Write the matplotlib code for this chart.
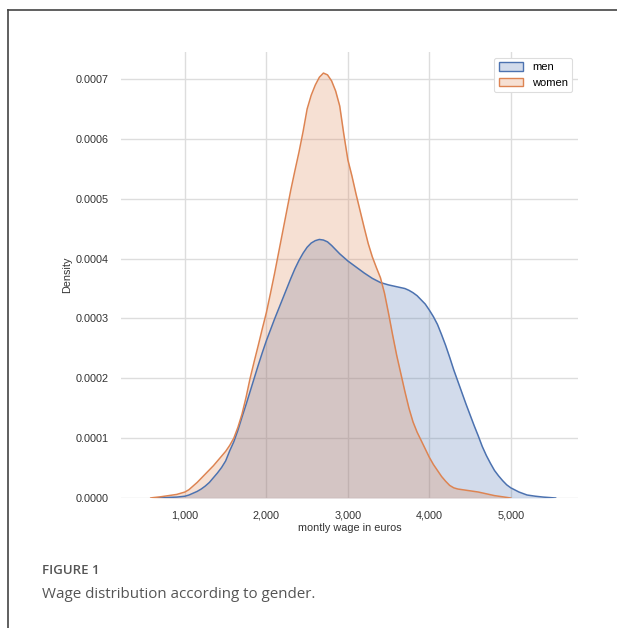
# wage density by gender
import numpy as np
import matplotlib.pyplot as plt
from matplotlib.lines import Line2D

# wage grid (euros) and density values
men_wage = [620, 700, 800, 900, 1000, 1050, 1100, 1150, 1200, 1250, 1300, 1350, 1400,
            1450, 1500, 1550, 1600, 1650, 1700, 1750, 1800, 1850, 1900, 1950, 2000,
            2050, 2100, 2150, 2200, 2250, 2300, 2350, 2400, 2450, 2500, 2550, 2600,
            2650, 2700, 2750, 2800, 2850, 2900, 2950, 3000, 3100, 3200, 3300, 3400,
            3500, 3600, 3700, 3750, 3800, 3850, 3900, 3950, 4000, 4050, 4100, 4150,
            4200, 4250, 4300, 4350, 4400, 4450, 4500, 4550, 4600, 4650, 4700, 4750,
            4800, 4850, 4900, 4950, 5000, 5100, 5200, 5300, 5400, 5500, 5550]
men_density = [0.0, 0.0000005, 0.000001, 0.0000015, 0.000003, 0.000005, 0.000008,
               0.000011, 0.000015, 0.00002, 0.000026, 0.000034, 0.000042, 0.000051,
               0.000062, 0.000079, 0.000094, 0.000113, 0.000135, 0.000156, 0.000178,
               0.0002, 0.000222, 0.000243, 0.000263, 0.000281, 0.000299, 0.000316,
               0.000333, 0.00035, 0.000367, 0.000383, 0.000397, 0.000409, 0.000419,
               0.000426, 0.00043, 0.000432, 0.000431, 0.000428, 0.000422, 0.000415,
               0.000408, 0.000402, 0.000396, 0.000386, 0.000376, 0.000367, 0.00036,
               0.000356, 0.000353, 0.00035, 0.000347, 0.000343, 0.000338, 0.000331,
               0.000324, 0.000314, 0.000303, 0.00029, 0.000273, 0.000255, 0.000235,
               0.000214, 0.000195, 0.000176, 0.000157, 0.000139, 0.000121, 0.000104,
               0.000086, 0.000071, 0.000058, 0.000046, 0.000037, 0.000029, 0.000022,
               0.000017, 0.00001, 0.000005, 0.000003, 0.0000015, 0.0000005, 0.0]

women_wage = [580, 600, 700, 800, 900, 1000, 1050, 1100, 1150, 1200, 1250, 1300, 1350,
              1400, 1450, 1500, 1550, 1600, 1650, 1700, 1750, 1800, 1850, 1900, 1950,
              2000, 2050, 2100, 2150, 2200, 2250, 2300, 2350, 2400, 2450, 2500, 2550,
              2600, 2650, 2700, 2750, 2800, 2850, 2900, 2950, 3000, 3050, 3100, 3150,
              3200, 3250, 3300, 3350, 3400, 3450, 3500, 3550, 3600, 3650, 3700, 3750,
              3800, 3850, 3900, 3950, 4000, 4050, 4100, 4150, 4200, 4250, 4300, 4350,
              4400, 4500, 4600, 4700, 4800, 4900, 5000]
women_density = [0.0, 0.0000005, 0.000002, 0.000004, 0.000006, 0.00001, 0.000014,
                 0.00002, 0.000026, 0.000033, 0.00004, 0.000047, 0.000054, 0.000062,
                 0.00007, 0.000078, 0.000088, 0.0001, 0.000118, 0.00014, 0.000168,
                 0.0002, 0.000228, 0.000255, 0.000283, 0.00031, 0.000342, 0.000375,
                 0.00041, 0.000445, 0.00048, 0.000515, 0.000547, 0.000578, 0.000612,
                 0.00065, 0.000673, 0.00069, 0.000703, 0.00071, 0.000707, 0.000697,
                 0.00068, 0.000655, 0.000608, 0.000565, 0.000538, 0.000508, 0.00048,
                 0.000452, 0.000425, 0.000403, 0.000385, 0.000368, 0.000342, 0.000308,
                 0.000272, 0.000238, 0.000208, 0.000178, 0.00015, 0.000127, 0.00011,
                 0.000096, 0.000082, 0.000068, 0.000056, 0.000046, 0.000036, 0.000028,
                 0.000021, 0.000017, 0.000015, 0.000014, 0.000012, 0.00001, 0.000007,
                 0.000004, 0.000002, 0.0]

x_ticks = [1000, 2000, 3000, 4000, 5000]
y_ticks = [0.0, 0.0001, 0.0002, 0.0003, 0.0004, 0.0005, 0.0006, 0.0007]

blue = '#4C72B0'
orange = '#DD8452'

plt.rcParams['font.family'] = ['Liberation Sans', 'DejaVu Sans']

fig = plt.figure(figsize=(6.17, 6.28), dpi=100)
ax = fig.add_axes([121 / 617, 0.207, 457 / 617, 0.710])

ax.fill_between(men_wage, men_density, color=blue, alpha=0.25, lw=0)
ax.plot(men_wage, men_density, color=blue, lw=1.1)
ax.fill_between(women_wage, women_density, color=orange, alpha=0.25, lw=0)
ax.plot(women_wage, women_density, color=orange, lw=1.1)

# legend patches with edge
h1 = plt.Rectangle((0, 0), 1, 1, facecolor=(0.298, 0.447, 0.690, 0.25), edgecolor=blue, lw=1)
h2 = plt.Rectangle((0, 0), 1, 1, facecolor=(0.867, 0.518, 0.322, 0.25), edgecolor=orange, lw=1)
leg = ax.legend([h1, h2], ['men', 'women'], loc='upper right', fontsize=8,
                handlelength=2.2, handleheight=0.8, frameon=True, framealpha=1)
leg.get_frame().set_edgecolor('#dddddd')
leg.get_frame().set_linewidth(0.8)

ax.set_xlim(215, 5825)
ax.set_ylim(0, 0.000745)
ax.set_xticks(x_ticks)
ax.set_xticklabels(['{:,}'.format(v) for v in x_ticks])
ax.set_yticks(y_ticks)
ax.set_yticklabels(['{:.4f}'.format(v) for v in y_ticks])
ax.grid(True, color='#dddddd', lw=1)
ax.set_axisbelow(True)
for s in ax.spines.values():
    s.set_visible(False)
ax.tick_params(length=0, labelsize=7.8, colors='#333333')
ax.tick_params(axis='x', pad=9)
ax.tick_params(axis='y', pad=9)
ax.set_xlabel('montly wage in euros', fontsize=7.8, color='#333333', labelpad=2)
ax.set_ylabel('Density', fontsize=7.8, color='#333333', labelpad=2)

# frame lines top and left
fig.add_artist(Line2D([8 / 617, 1], [1 - 10 / 628, 1 - 10 / 628], color='#444444', lw=1.2))
fig.add_artist(Line2D([8 / 617, 8 / 617], [0, 1 - 10 / 628], color='#444444', lw=1.2))

# caption
fig.text(42 / 617, 1 - 570 / 628, 'FIGURE 1', fontsize=9.5, color='#555555',
         family=['Open Sans', 'DejaVu Sans'], weight='semibold', va='center')
fig.text(42 / 617, 1 - 594 / 628, 'Wage distribution according to gender.', fontsize=10.9,
         color='#555555', family=['Open Sans', 'DejaVu Sans'], va='center')

plt.savefig('out.png', dpi=100)
